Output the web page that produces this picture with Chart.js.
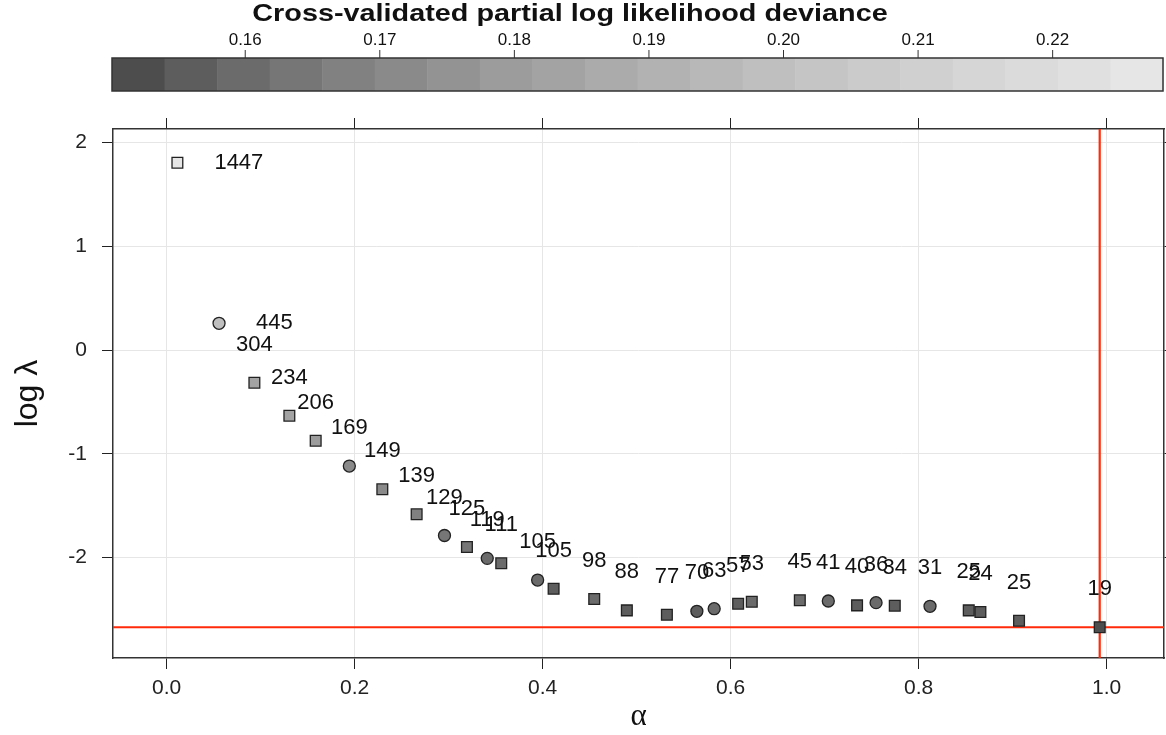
<!DOCTYPE html>
<html>
<head>
<meta charset="utf-8">
<script src="https://cdn.jsdelivr.net/npm/chart.js@4.4.1/dist/chart.umd.min.js"></script>
<style>
  html, body { margin: 0; padding: 0; background: #fff; }
</style>
</head>
<body>
<canvas id="cvChart" width="1166" height="735"></canvas>
<script>
// alpha / log(lambda) at the CV optimum for each alpha
const alphaVals = [0.0115, 0.0558, 0.0934, 0.1306, 0.1586, 0.1944, 0.2295, 0.2660, 0.2956, 0.3195,
  0.3411, 0.3560, 0.3947, 0.4117, 0.4549, 0.4896, 0.5322, 0.5641, 0.5825, 0.6080,
  0.6225, 0.6736, 0.7039, 0.7345, 0.7547, 0.7746, 0.8121, 0.8533, 0.8657, 0.9068, 0.9926];
const logLambda = [1.804, 0.257, -0.315, -0.633, -0.874, -1.118, -1.342, -1.583, -1.787, -1.898,
  -2.007, -2.055, -2.216, -2.300, -2.399, -2.508, -2.550, -2.517, -2.492, -2.444,
  -2.425, -2.411, -2.418, -2.460, -2.434, -2.463, -2.469, -2.508, -2.524, -2.608, -2.671];
const nonzero = [1447, 445, 304, 234, 206, 169, 149, 139, 129, 125, 119, 111, 105, 105, 98, 88,
  77, 70, 63, 57, 53, 45, 41, 40, 36, 34, 31, 25, 24, 25, 19];
const deviance = [0.226, 0.199, 0.184, 0.183, 0.181, 0.173, 0.172, 0.168, 0.165, 0.163,
  0.161, 0.159, 0.161, 0.156, 0.158, 0.155, 0.156, 0.157, 0.159, 0.156,
  0.158, 0.158, 0.159, 0.155, 0.158, 0.156, 0.159, 0.156, 0.156, 0.155, 0.151];
// 1 = circle marker, 0 = square marker
const markerGroup = [0, 1, 0, 0, 0, 1, 0, 0, 1, 0, 1, 0, 1, 0, 0, 0, 0, 1, 1, 0, 0, 0, 1, 0, 1, 0, 1, 0, 0, 0, 0];

const xTicks = [0, 0.2, 0.4, 0.6, 0.8, 1.0];
const yTicks = [-2, -1, 0, 1, 2];
const devTicks = [0.16, 0.17, 0.18, 0.19, 0.20, 0.21, 0.22];
const devRange = [0.1501, 0.2282];
const nBins = 20;

const xLim = [-0.057, 1.061];
const yLim = [-2.967, 2.129];

// R gray.colors(20, 0.3, 0.9)
function binGray(k) {
  const a = Math.pow(0.3, 2.2), b = Math.pow(0.9, 2.2);
  const g = Math.round(255 * Math.pow(a + (b - a) * k / (nBins - 1), 1 / 2.2));
  return `rgb(${g},${g},${g})`;
}
function devColor(v) {
  let k = Math.floor((v - devRange[0]) / (devRange[1] - devRange[0]) * nBins);
  k = Math.max(0, Math.min(nBins - 1, k));
  return binGray(k);
}

let best = 0;
deviance.forEach((d, i) => { if (d < deviance[best]) best = i; });

const points = alphaVals.map((a, i) => ({ x: a, y: logLambda[i] }));

const SANS = "'Liberation Sans', Arial, sans-serif";

// colour key across the top
const colorKey = {
  id: "colorKey",
  afterDraw(chart) {
    const ctx = chart.ctx;
    const left = 112, right = 1163, top = 58, bottom = 91;
    const toPx = (v) => left + (v - devRange[0]) / (devRange[1] - devRange[0]) * (right - left);
    ctx.save();
    const step = (devRange[1] - devRange[0]) / nBins;
    for (let k = 0; k < nBins; k++) {
      const x0 = toPx(devRange[0] + k * step), x1 = toPx(devRange[0] + (k + 1) * step);
      ctx.fillStyle = binGray(k);
      ctx.fillRect(x0, top, x1 - x0 + 0.5, bottom - top);
    }
    ctx.strokeStyle = "#333";
    ctx.lineWidth = 1.5;
    ctx.strokeRect(left, top, right - left, bottom - top);
    ctx.fillStyle = "#111";
    ctx.font = "17px " + SANS;
    ctx.textAlign = "center";
    ctx.textBaseline = "middle";
    ctx.lineWidth = 1;
    devTicks.forEach((t) => {
      const x = toPx(t);
      ctx.beginPath();
      ctx.moveTo(x, top - 8);
      ctx.lineTo(x, top);
      ctx.stroke();
      ctx.fillText(t.toFixed(2), x, 40);
    });
    // title is set a little wide, like the original
    ctx.font = "bold 24px " + SANS;
    ctx.translate(570, 14);
    ctx.scale(1.2, 1);
    ctx.fillText("Cross-validated partial log likelihood deviance", 0, 0);
    ctx.restore();
  },
};

// number-of-nonzero labels next to each point
const pointLabels = {
  id: "pointLabels",
  afterDatasetsDraw(chart) {
    const ctx = chart.ctx;
    const meta = chart.getDatasetMeta(0);
    ctx.save();
    ctx.font = "22px " + SANS;
    ctx.fillStyle = "#111";
    ctx.textBaseline = "middle";
    meta.data.forEach((pt, i) => {
      if (i < 2) {
        ctx.textAlign = "left";
        ctx.fillText(String(nonzero[i]), pt.x + 37, pt.y);
      } else {
        ctx.textAlign = "center";
        ctx.fillText(String(nonzero[i]), pt.x, pt.y - 38);
      }
    });
    ctx.restore();
  },
};

const tickFont = { family: SANS, size: 21 };
const setTicks = (list) => (scale) => { scale.ticks = list.map((v) => ({ value: v })); };
const noPad = (h) => (s) => { s.height = h; s.paddingLeft = 0; s.paddingRight = 0; };

new Chart(document.getElementById("cvChart"), {
  type: "scatter",
  data: {
    datasets: [
      {
        data: points,
        order: 0,
        pointStyle: (c) => (markerGroup[c.dataIndex] ? "circle" : "rect"),
        pointRadius: (c) => (markerGroup[c.dataIndex] ? 6 : 7.6),
        backgroundColor: (c) => devColor(deviance[c.dataIndex]),
        borderColor: "#222",
        borderWidth: 1.3,
      },
      {
        data: [{ x: xLim[0], y: logLambda[best] }, { x: xLim[1], y: logLambda[best] }],
        showLine: true,
        pointRadius: 0,
        borderColor: "#ff2a0a",
        borderWidth: 2.2,
        order: 1,
      },
      {
        data: [{ x: alphaVals[best], y: yLim[0] }, { x: alphaVals[best], y: yLim[1] }],
        showLine: true,
        pointRadius: 0,
        borderColor: "#ff2a0a",
        borderWidth: 2.2,
        order: 1,
      },
    ],
  },
  options: {
    responsive: false,
    animation: false,
    devicePixelRatio: 1,
    layout: { autoPadding: false, padding: { top: 118, left: 0, right: 0, bottom: 0 } },
    plugins: { legend: { display: false }, tooltip: { enabled: false } },
    scales: {
      x: {
        type: "linear",
        position: "bottom",
        min: xLim[0],
        max: xLim[1],
        afterBuildTicks: setTicks(xTicks),
        afterFit: noPad(77),
        ticks: { font: tickFont, color: "#222", padding: 7, callback: (v) => v.toFixed(1) },
        grid: { color: "#e6e6e6", lineWidth: 1, tickColor: "#222", tickLength: 11 },
        border: { color: "#333", width: 1.5 },
        title: { display: true, text: "α", font: { family: "'Liberation Serif', serif", size: 31 }, color: "#111", padding: { top: 0, bottom: 0 } },
      },
      x2: {
        type: "linear",
        position: "top",
        min: xLim[0],
        max: xLim[1],
        afterBuildTicks: setTicks(xTicks),
        afterFit: noPad(11),
        ticks: { display: false },
        grid: { drawOnChartArea: false, tickColor: "#222", tickLength: 11 },
        border: { color: "#333", width: 1.5 },
      },
      y: {
        type: "linear",
        position: "left",
        min: yLim[0],
        max: yLim[1],
        afterBuildTicks: setTicks(yTicks),
        afterFit: (s) => { s.width = 113; },
        ticks: { font: tickFont, color: "#222", padding: 15, callback: (v) => String(v) },
        grid: { color: "#e6e6e6", lineWidth: 1, tickColor: "#222", tickLength: 11 },
        border: { color: "#333", width: 1.5 },
        title: { display: true, text: "log λ", font: { family: SANS, size: 32 }, color: "#111", padding: { top: 9, bottom: 0 } },
      },
      y2: {
        type: "linear",
        position: "right",
        min: yLim[0],
        max: yLim[1],
        afterBuildTicks: setTicks(yTicks),
        afterFit: (s) => { s.width = 2; },
        ticks: { display: false },
        grid: { drawOnChartArea: false, tickColor: "#222", tickLength: 11 },
        border: { color: "#333", width: 1.5 },
      },
    },
  },
  plugins: [colorKey, pointLabels],
});
</script>
</body>
</html>
